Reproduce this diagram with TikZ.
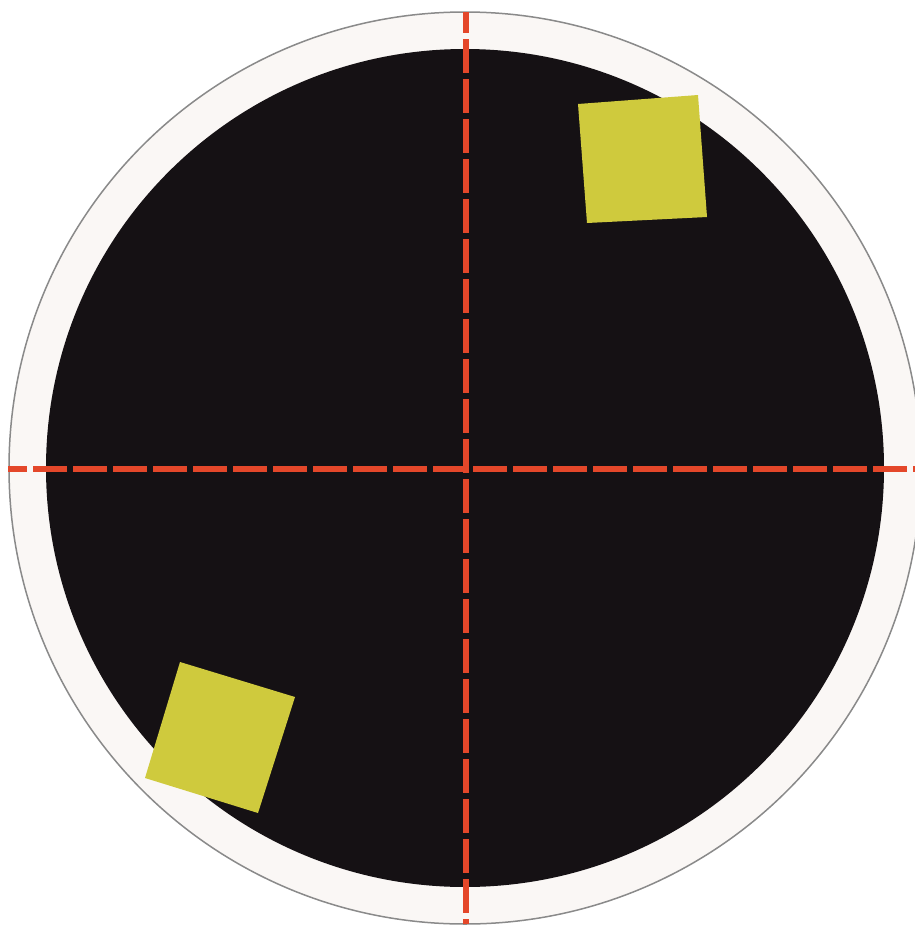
\documentclass[tikz,border=0pt]{standalone}
\definecolor{ringfill}{HTML}{FAF7F5}
\definecolor{ringline}{HTML}{8A8A8A}
\definecolor{disc}{HTML}{151114}
\definecolor{marker}{HTML}{CFCA3D}
\definecolor{axis}{HTML}{E4472A}
\tikzset{
  ring/.style={fill=ringfill, draw=ringline, line width=1.5pt},
  discstyle/.style={fill=disc},
  markerbox/.style={fill=marker},
  axisline/.style={draw=axis, line width=6pt, dash pattern=on 34pt off 6pt}
}
\begin{document}
\begin{tikzpicture}[x=1pt,y=-1pt]
\useasboundingbox (0,0) rectangle (915,926);
\fill[white] (0,0) rectangle (915,926);
\clip (0,0) rectangle (915,926);
\draw[ring] (465,468) circle (456);
\fill[discstyle] (465,468) circle (419);
\fill[markerbox] (578,104) -- (698,95) -- (707,217) -- (587,223) -- cycle;
\fill[markerbox] (180,662) -- (295,697) -- (258,813) -- (145,778) -- cycle;
\coordinate (vtop) at (466,12);
\coordinate (vbot) at (466,924);
\coordinate (hleft) at (8,469);
\coordinate (hright) at (915,469);
\draw[axisline, dash phase=13pt] (vtop) -- (vbot);
\draw[axisline, dash phase=15pt] (hleft) -- (hright);
\end{tikzpicture}
\end{document}
